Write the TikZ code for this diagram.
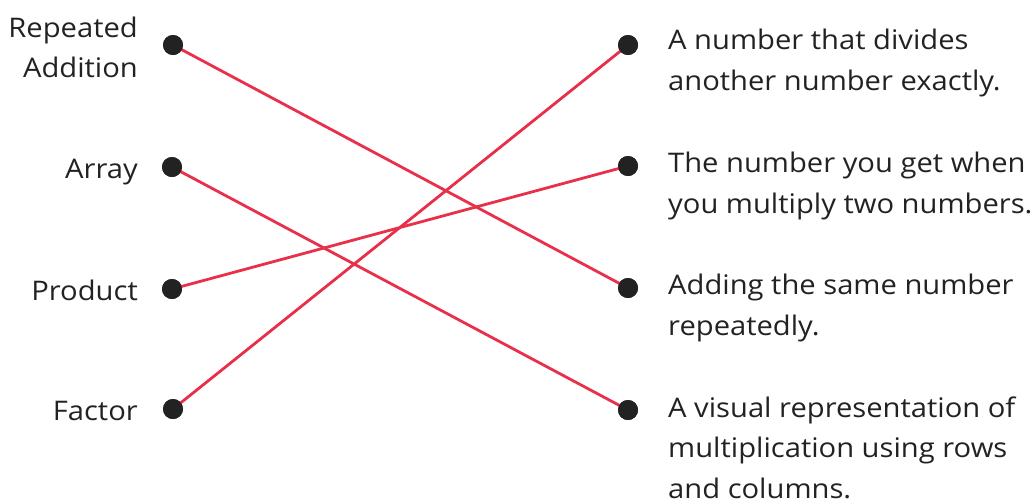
\documentclass[tikz,border=0pt]{standalone}
\usepackage{fontspec}
\setmainfont[FakeStretch=1.08]{Open Sans}
\definecolor{ink}{HTML}{222222}
\definecolor{linkred}{HTML}{E8304A}
\begin{document}
\begin{tikzpicture}[x=1pt,y=-1pt,
  dot/.style={circle,fill=ink,inner sep=0pt,minimum size=20pt},
  link/.style={draw=linkred,line width=2.8pt},
  lbl/.style={text=ink,font=\fontsize{27}{40}\selectfont,inner sep=0pt},
  desc/.style={text=ink,font=\fontsize{27}{40.5}\selectfont,inner sep=0pt,align=left,anchor=base west}]
\useasboundingbox (0,0) rectangle (1031,499);
\node[dot] (l1) at (173,45) {};
\node[dot] (l2) at (172,167) {};
\node[dot] (l3) at (172,289) {};
\node[dot] (l4) at (173,409) {};
\node[dot] (r1) at (628,45) {};
\node[dot] (r2) at (628,166) {};
\node[dot] (r3) at (628,288) {};
\node[dot] (r4) at (628,410) {};
\draw[link] (l1.center) -- (r3.center);
\draw[link] (l2.center) -- (r4.center);
\draw[link] (l3.center) -- (r2.center);
\draw[link] (l4.center) -- (r1.center);
\foreach \n in {l1,l2,l3,l4,r1,r2,r3,r4} {\fill[ink] (\n) circle (10pt);}
\node[lbl,anchor=base east] (t1a) at (138,37) {Repeated};
\node[lbl,anchor=base east] (t1b) at (138,77) {Addition};
\node[lbl,anchor=base east] (t2) at (138,178) {Array};
\node[lbl,anchor=base east] (t3) at (138,300) {Product};
\node[lbl,anchor=base east] (t4) at (138,420) {Factor};
\node[desc] (d1) at (668,90) {A number that divides\\another number exactly.};
\node[desc] (d2) at (668,213) {The number you get when\\you multiply two numbers.};
\node[desc] (d3) at (668,335) {Adding the same number\\repeatedly.};
\node[desc] (d4) at (668,498) {A visual representation of\\multiplication using rows\\and columns.};
\end{tikzpicture}
\end{document}
